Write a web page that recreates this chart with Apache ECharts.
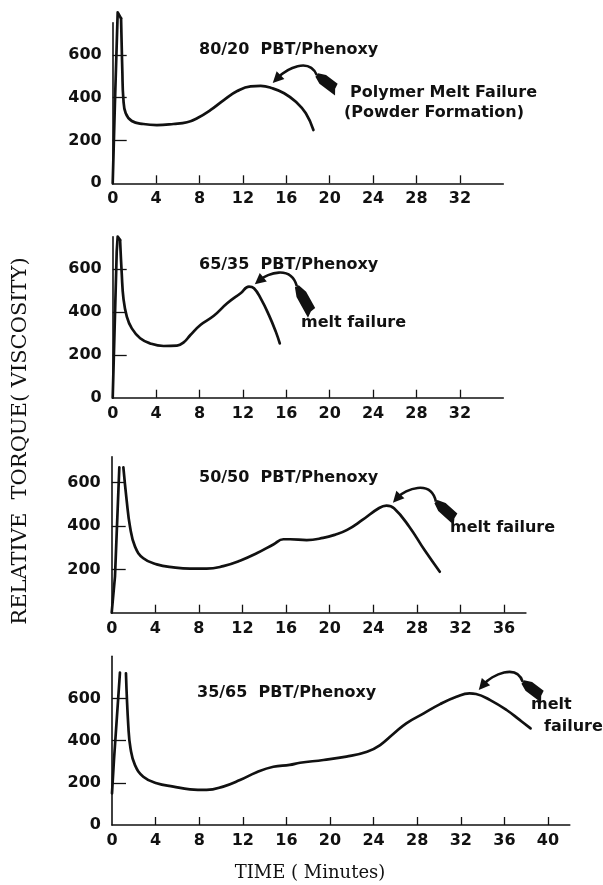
<!DOCTYPE html>
<html>
<head>
<meta charset="utf-8">
<script src="https://cdn.jsdelivr.net/npm/echarts@6/dist/echarts.min.js"></script>
<style>
html,body{margin:0;padding:0;background:#fff;}
#chart{width:603px;height:885px;}
</style>
</head>
<body>
<div id="chart"></div>
<script>
// ---- data ----
const time8020   = [0, 0.2, 0.46, 0.77, 0.89, 0.98, 1.2, 1.76, 2.83, 4.07, 5.6, 6.85, 7.78, 9.0, 10.24, 11.48, 12.71, 13.64, 14.72, 15.8, 16.88, 17.8, 18.5];
const torque8020 = [0, 366, 799, 771, 521, 397, 327, 291, 277, 272, 277, 285, 304, 342, 389, 431, 453, 455, 444, 421, 381, 327, 249];

const time6535   = [0, 0.37, 0.46, 0.68, 0.84, 0.99, 1.3, 1.76, 2.53, 3.45, 4.69, 5.92, 6.54, 7.16, 8.08, 9.32, 10.55, 11.79, 12.56, 13.02, 13.64, 14.4, 15.03, 15.4];
const torque6535 = [0, 681, 751, 735, 572, 463, 378, 323, 277, 253, 241, 243, 258, 292, 339, 382, 440, 487, 518, 510, 463, 385, 308, 253];

const time5050   = [0, 0.3, 0.7, 0.9, 1.07, 1.37, 1.68, 2.14, 2.9, 4.13, 5.66, 7.18, 8.71, 10.24, 11.77, 13.3, 14.83, 15.75, 16.36, 17.89, 19.4, 20.5, 21.6, 23.0, 24.5, 25.2, 25.9, 27.3, 28.7, 30.1];
const torque5050 = [0, 166, 671, null, 671, 520, 397, 305, 251, 223, 209, 203, 203, 215, 240, 274, 315, 339, 339, 335, 345, 360, 382, 428, 482, 494, 482, 397, 289, 189];

const time3565   = [0, 0.18, 0.73, 1.0, 1.28, 1.5, 1.7, 2.11, 2.87, 4.1, 5.63, 7.15, 8.68, 10.2, 11.74, 13.27, 14.8, 16.3, 17.25, 19.4, 21.5, 23.4, 24.6, 25.8, 27.0, 28.6, 30.1, 31.6, 32.8, 33.4, 34.7, 36.2, 37.4, 38.4];
const torque3565 = [150, 308, 722, null, 719, 466, 363, 284, 229, 198, 182, 169, 166, 182, 213, 250, 276, 285, 295, 308, 324, 347, 379, 431, 482, 529, 573, 608, 624, 621, 592, 545, 498, 458];

const panelTitles = ['80/20  PBT/Phenoxy', '65/35  PBT/Phenoxy', '50/50  PBT/Phenoxy', '35/65  PBT/Phenoxy'];
const xTicks1 = [0, 4, 8, 12, 16, 20, 24, 28, 32];
const xTicks2 = [0, 4, 8, 12, 16, 20, 24, 28, 32];
const xTicks3 = [0, 4, 8, 12, 16, 20, 24, 28, 32, 36];
const xTicks4 = [0, 4, 8, 12, 16, 20, 24, 28, 32, 36, 40];
const yTicks1 = [0, 200, 400, 600];
const yTicks2 = [0, 200, 400, 600];
const yTicks3 = [200, 400, 600];
const yTicks4 = [0, 200, 400, 600];
const xTitle = 'TIME ( Minutes)';
const yTitle = 'RELATIVE  TORQUE( VISCOSITY)';

// ---- layout ----
// spikeEnd: index where the sharp start-up spike ends and the smooth trace begins
const panels = [
  {t: time8020, v: torque8020, xt: xTicks1, yt: yTicks1, spikeEnd: 3, xMax: 36, yMax: 750, grid: {left: 112.7, top: 22.8, width: 390.6, height: 160.5}},
  {t: time6535, v: torque6535, xt: xTicks2, yt: yTicks2, spikeEnd: 3, xMax: 36, yMax: 750, grid: {left: 112.7, top: 236.8, width: 390.6, height: 160.9}},
  {t: time5050, v: torque5050, xt: xTicks3, yt: yTicks3, spikeEnd: 4, xMax: 38, yMax: 720, grid: {left: 111.7, top: 456.7, width: 414.2, height: 156}},
  {t: time3565, v: torque3565, xt: xTicks4, yt: yTicks4, spikeEnd: 4, xMax: 42, yMax: 800, grid: {left: 112, top: 656.2, width: 457.8, height: 168.8}}
];

const tickFont = {fontFamily: 'DejaVu Sans', fontWeight: 'bold', fontSize: 16, color: '#111'};
const ink = '#111';
const traceStyle = {color: ink, width: 2.7, cap: 'round', join: 'round'};

const chart = echarts.init(document.getElementById('chart'), null, {renderer: 'canvas'});

const pts = (p, a, b) => p.t.slice(a, b).map((t, k) => p.v[a + k] === null ? [t, '-'] : [t, p.v[a + k]]);

const series = [];
panels.forEach((p, i) => {
  series.push({
    type: 'line', xAxisIndex: i, yAxisIndex: i,
    data: pts(p, 0, p.spikeEnd + 1),
    showSymbol: false, symbol: 'none', clip: false, smooth: false, connectNulls: false,
    lineStyle: traceStyle
  });
  series.push({
    type: 'line', xAxisIndex: i, yAxisIndex: i,
    data: pts(p, p.spikeEnd, p.t.length),
    showSymbol: false, symbol: 'none', clip: false, smooth: 0.45,
    lineStyle: traceStyle
  });
});

const option = {
  animation: false,
  backgroundColor: '#fff',
  grid: panels.map(p => Object.assign({containLabel: false}, p.grid)),
  xAxis: panels.map((p, i) => ({
    type: 'value', gridIndex: i, min: 0, max: p.xMax, interval: 4,
    axisLine: {show: true, onZero: false, lineStyle: {color: ink, width: 1.6}},
    axisTick: {show: true, inside: true, length: 8, customValues: p.xt.filter(x => x > 0), lineStyle: {color: ink, width: 1.3}},
    axisLabel: Object.assign({margin: 8, customValues: p.xt, showMinLabel: true, showMaxLabel: true}, tickFont),
    splitLine: {show: false}
  })),
  yAxis: panels.map((p, i) => ({
    type: 'value', gridIndex: i, min: 0, max: p.yMax, interval: 200,
    axisLine: {show: true, onZero: false, lineStyle: {color: ink, width: 1.6}},
    axisTick: {show: true, inside: true, length: 14, customValues: [200, 400, 600], lineStyle: {color: ink, width: 1.3}},
    axisLabel: Object.assign({margin: 11, customValues: p.yt, showMinLabel: true}, tickFont),
    splitLine: {show: false}
  })),
  series: series
};
chart.setOption(option);

// ---- annotations ----
// arrow tip anchored in data coordinates; shape given as pixel offsets
const arrows = [
  {tip: [14.75, 469], c1: [14, -14], c2: [36, -26], tail: [44, -8], end: [64, 7]},
  {tip: [13.1, 529],  c1: [12, -10], c2: [36, -20], tail: [42, 2],  end: [57, 29]},
  {tip: [25.8, 508],  c1: [12, -13], c2: [38, -24], tail: [43, -1], end: [63, 17]},
  {tip: [33.65, 640], c1: [13, -15], c2: [38, -27], tail: [44, -8], end: [64, 7]}
];

const graphics = [];
arrows.forEach((a, i) => {
  const [tx, ty] = chart.convertToPixel({gridIndex: i}, a.tip);
  const c1 = [tx + a.c1[0], ty + a.c1[1]];
  const c2 = [tx + a.c2[0], ty + a.c2[1]];
  const tl = [tx + a.tail[0], ty + a.tail[1]];
  const en = [tx + a.end[0], ty + a.end[1]];
  // arrow head
  let dx = tx - c1[0], dy = ty - c1[1];
  let len = Math.hypot(dx, dy); let ux = dx / len, uy = dy / len; let nx = -uy, ny = ux;
  const L = 11, W = 5.5;
  graphics.push({type: 'polygon', shape: {points: [[tx, ty], [tx - L * ux + W * nx, ty - L * uy + W * ny], [tx - L * ux - W * nx, ty - L * uy - W * ny]]}, style: {fill: ink}});
  graphics.push({type: 'bezierCurve', shape: {x1: tx - 0.7 * L * ux, y1: ty - 0.7 * L * uy, cpx1: c1[0], cpy1: c1[1], cpx2: c2[0], cpy2: c2[1], x2: tl[0], y2: tl[1]}, style: {stroke: ink, lineWidth: 2.6, fill: null}});
  // feather / tail wedge
  dx = en[0] - tl[0]; dy = en[1] - tl[1];
  len = Math.hypot(dx, dy); ux = dx / len; uy = dy / len; nx = -uy; ny = ux;
  const w0 = 2.2, w1 = 5.5;
  const pA = [tl[0] + 0.3 * len * ux, tl[1] + 0.3 * len * uy];
  graphics.push({type: 'polygon', shape: {points: [
    [tl[0] + w0 * nx, tl[1] + w0 * ny],
    [pA[0] + w1 * nx, pA[1] + w1 * ny],
    [en[0] + w1 * nx + 2 * ux, en[1] + w1 * ny + 2 * uy],
    [en[0] - 2 * ux, en[1] - 2 * uy],
    [en[0] - w1 * nx - 3 * ux, en[1] - w1 * ny - 3 * uy],
    [pA[0] - w1 * nx, pA[1] - w1 * ny],
    [tl[0] - w0 * nx, tl[1] - w0 * ny]
  ]}, style: {fill: ink}});
});

const labelFont = 'bold 16px "DejaVu Sans"';
const titlePos = [[199, 50], [199, 265], [199, 478], [197, 693]];
panelTitles.forEach((t, i) => {
  graphics.push({type: 'text', x: titlePos[i][0], y: titlePos[i][1], style: {text: t, font: labelFont, fill: ink, textAlign: 'left', textVerticalAlign: 'middle'}});
});
const notes = [
  ['Polymer Melt Failure', 350, 93],
  ['(Powder Formation)', 344, 113],
  ['melt failure', 301, 323],
  ['melt failure', 450, 528],
  ['melt', 531, 705],
  ['failure', 544, 727]
];
notes.forEach(n => {
  graphics.push({type: 'text', x: n[1], y: n[2], style: {text: n[0], font: labelFont, fill: ink, textAlign: 'left', textVerticalAlign: 'middle'}});
});
graphics.push({type: 'text', x: 310, y: 873, style: {text: xTitle, font: '18px "DejaVu Serif"', fill: ink, textAlign: 'center', textVerticalAlign: 'middle'}});
graphics.push({type: 'text', x: 21, y: 441, rotation: Math.PI / 2, style: {text: yTitle, font: '21px "DejaVu Serif"', fill: ink, textAlign: 'center', textVerticalAlign: 'middle'}});

chart.setOption({graphic: graphics});
</script>
</body>
</html>
